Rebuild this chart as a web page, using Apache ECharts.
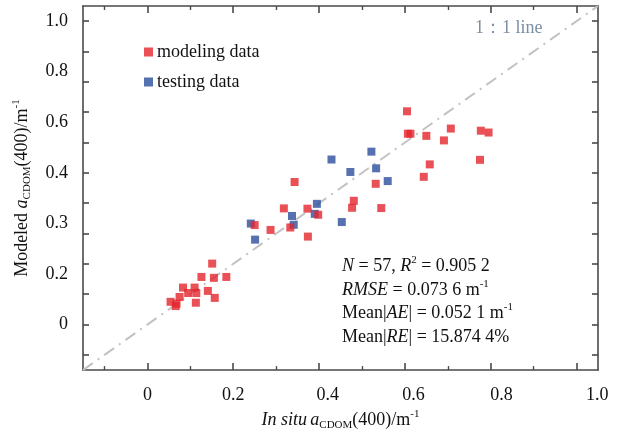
<!DOCTYPE html>
<html><head><meta charset="utf-8">
<script src="https://cdn.jsdelivr.net/npm/echarts@6/dist/echarts.min.js"></script>
<style>html,body{margin:0;padding:0;background:#fff}#c{width:621px;height:436px}</style>
</head><body><div id="c"></div>
<script>
// ---- data ----
const modelingX = [0.605,0.607,0.613,0.650,0.707,0.691,0.777,0.795,0.775,0.658,0.644,0.532,
  0.343,0.481,0.477,0.545,0.318,0.373,0.398,0.333,0.250,0.287,0.374,
  0.151,0.126,0.155,0.184,0.083,0.110,0.141,0.095,0.114,0.157,0.054,0.068,0.113,0.066,0.075];
const modelingY = [0.703,0.629,0.629,0.622,0.646,0.607,0.639,0.633,0.543,0.528,0.487,0.464,
  0.470,0.408,0.385,0.384,0.383,0.382,0.362,0.320,0.328,0.312,0.290,
  0.201,0.157,0.154,0.157,0.122,0.122,0.111,0.104,0.104,0.088,0.075,0.069,0.072,0.061,0.091];
const testingX = [0.429,0.522,0.473,0.533,0.560,0.395,0.390,0.337,0.341,0.453,0.241,0.251];
const testingY = [0.544,0.570,0.503,0.515,0.473,0.398,0.365,0.358,0.329,0.338,0.333,0.280];
const refLine = [-0.15, 1.05];
const xTickLabels = ['0','0.2','0.4','0.6','0.8','1.0'];
const yTickLabels = ['0','0.2','0.3','0.4','0.6','0.8','1.0'];
const seriesNames = ['modeling data','testing data'];

// ---- axis layout (label / tick placement as drawn in the reference) ----
const xLabelPos = [0, 0.2, 0.42, 0.62, 0.825, 1.048];
const yLabelPos = [0, 1/6, 2/6, 3/6, 4/6, 5/6, 1];
const xMajor = [0,0.2,0.4,0.6,0.8,1.0];
const xMinor = [-0.1,0.1,0.3,0.5,0.7,0.9];
const yTicks = [-0.1,0,0.1,0.2,0.3,0.4,0.5,0.6,0.7,0.8,0.9,1.0];

const SERIF = "'Liberation Serif','Times New Roman',serif";
const AX = '#4a4a4a';
function lab(pos, texts){ return v => { for (let i=0;i<pos.length;i++) if (Math.abs(pos[i]-v)<1e-6) return texts[i]; return ''; }; }
const nameRich = {
  n:{fontFamily:SERIF,fontSize:18,color:'#111',lineHeight:22},
  i:{fontFamily:SERIF,fontSize:18,color:'#111',fontStyle:'italic',lineHeight:22},
  sub:{fontFamily:SERIF,fontSize:11,color:'#111',verticalAlign:'bottom',lineHeight:16},
  sup:{fontFamily:SERIF,fontSize:11,color:'#111',verticalAlign:'top',lineHeight:17}
};
function baseAx(extra){ return Object.assign({type:'value',min:-0.15,max:1.05,splitLine:{show:false},
  axisLine:{show:false,onZero:false},axisLabel:{show:false},axisTick:{show:false}}, extra); }

const chart = echarts.init(document.getElementById('c'), null, {renderer:'canvas'});
chart.setOption({
  animation:false,
  backgroundColor:'#fff',
  grid:{left:83,right:23,top:6,bottom:62,containLabel:false},
  xAxis:[
    baseAx({position:'bottom',axisLine:{show:true,onZero:false,lineStyle:{color:AX,width:1.6}},
      axisTick:{show:true,inside:true,length:7,customValues:xMajor,lineStyle:{color:AX,width:1.6}},
      axisLabel:{show:true,margin:16,customValues:xLabelPos,formatter:lab(xLabelPos,xTickLabels),
        fontFamily:SERIF,fontSize:18,color:'#111'},
      name:'{i|In situ} {i|a}{sub|CDOM}{n|(400)/m}{sup|-1}',nameLocation:'middle',nameGap:38,
      nameTextStyle:{rich:nameRich}}),
    baseAx({position:'bottom',axisTick:{show:true,inside:true,length:4,customValues:xMinor,lineStyle:{color:AX,width:1.4}}}),
    baseAx({position:'top',axisLine:{show:true,onZero:false,lineStyle:{color:AX,width:1.6}},
      axisTick:{show:true,inside:true,length:7,customValues:xMajor,lineStyle:{color:AX,width:1.6}}}),
    baseAx({position:'top',axisTick:{show:true,inside:true,length:4,customValues:xMinor,lineStyle:{color:AX,width:1.4}}})
  ],
  yAxis:[
    baseAx({position:'left',axisLine:{show:true,onZero:false,lineStyle:{color:AX,width:1.6}},
      axisTick:{show:true,inside:true,length:6,customValues:yTicks,lineStyle:{color:AX,width:1.6}},
      axisLabel:{show:true,margin:15,customValues:yLabelPos,formatter:lab(yLabelPos,yTickLabels),
        fontFamily:SERIF,fontSize:18,color:'#111'},
      name:'{n|Modeled }{i|a}{sub|CDOM}{n|(400)/m}{sup|-1}',nameLocation:'middle',nameGap:50,nameRotate:90,
      nameTextStyle:{rich:nameRich}}),
    baseAx({position:'right',axisLine:{show:true,onZero:false,lineStyle:{color:AX,width:1.6}},
      axisTick:{show:true,inside:true,length:6,customValues:yTicks,lineStyle:{color:AX,width:1.6}}})
  ],
  legend:{show:true,orient:'vertical',left:139,top:38,itemWidth:9,itemHeight:9,itemGap:12,icon:'rect',
    data:seriesNames,textStyle:{fontFamily:SERIF,fontSize:18,color:'#111',padding:[0,0,0,-1]}},
  series:[
    {type:'line',data:refLine.map(v=>[v,v]),symbol:'none',silent:true,z:1,
      lineStyle:{color:'#c2c2c2',width:2,type:[12,6,2,6]}},
    {name:seriesNames[0],type:'scatter',symbol:'rect',symbolSize:8,z:4,
      itemStyle:{color:'#e3262d'},data:modelingX.map((x,i)=>[x,modelingY[i]])},
    {name:seriesNames[1],type:'scatter',symbol:'rect',symbolSize:8,z:3,
      itemStyle:{color:'#2a4e9c'},data:testingX.map((x,i)=>[x,testingY[i]])}
  ],
  graphic:[
    {type:'text',left:475,top:19,style:{text:'1：1 line',fontFamily:SERIF,fontSize:18,fill:'#7d8ea3'}},
    {type:'text',left:342,top:255,style:{
      text:'{i|N}{n| = 57, }{i|R}{sup|2}{n| = 0.905 2}\n{i|RMSE}{n| = 0.073 6 m}{sup|-1}\n{n|Mean|}{i|AE}{n|| = 0.052 1 m}{sup|-1}\n{n|Mean|}{i|RE}{n|| = 15.874 4%}',
      rich:{
        n:{fontFamily:SERIF,fontSize:18,fill:'#111',lineHeight:23.5},
        i:{fontFamily:SERIF,fontSize:18,fill:'#111',fontStyle:'italic',lineHeight:23.5},
        sup:{fontFamily:SERIF,fontSize:11,fill:'#111',verticalAlign:'top',lineHeight:19}
      }}}
  ]
});
</script></body></html>
